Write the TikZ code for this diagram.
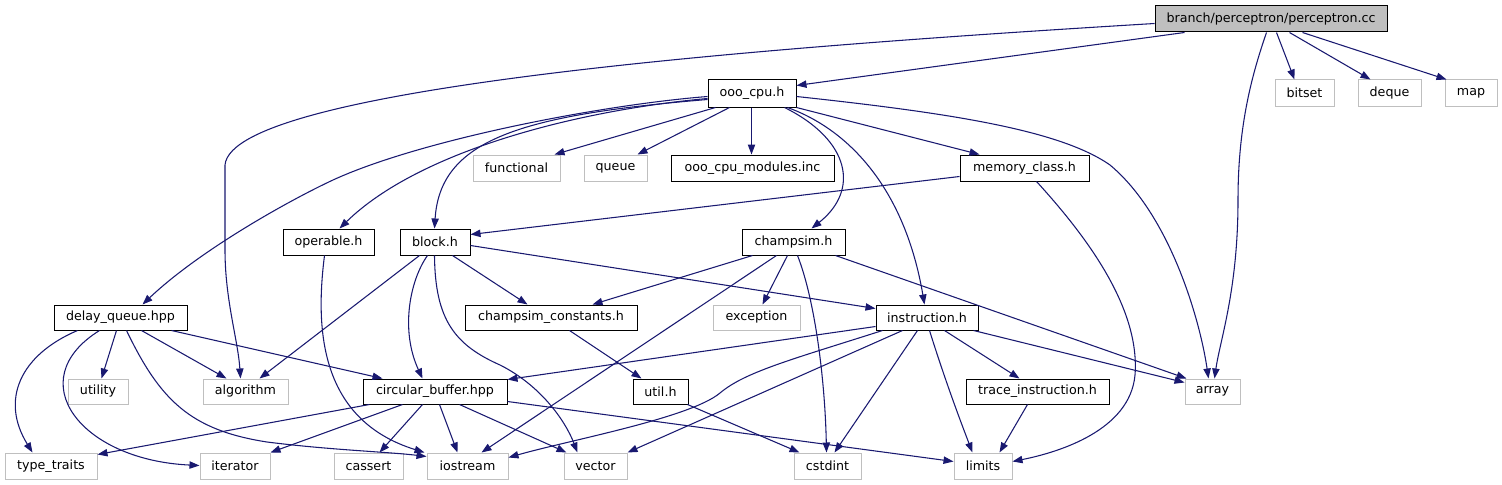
\documentclass[tikz,border=0pt]{standalone}
\usepackage{fontspec}
\setmainfont{DejaVu Sans}
\usetikzlibrary{arrows.meta,calc}
\definecolor{edgeblue}{HTML}{191970}
\definecolor{extgray}{HTML}{BFBFBF}
\newcommand\mkbox[7]{\node[#1, minimum width={(#5-#3)*0.75pt}, minimum height={(#6-#4)*0.75pt}] (#2) at ({(#3+#5)/2},{(#4+#6)/2}) {#7};}
\tikzset{
  basebox/.style={rectangle, inner sep=0pt, line width=0.75pt, font=\fontsize{9.5pt}{11pt}\selectfont, text=black},
  docbox/.style={basebox, draw=black},
  rootbox/.style={basebox, draw=black, fill=extgray},
  extbox/.style={basebox, draw=extgray},
  dep/.style={draw=edgeblue, line width=0.8pt, -{Triangle[length=7.5pt,width=5.5pt]}}
}
\begin{document}
\begin{tikzpicture}[x=0.75pt,y=-0.75pt]
\useasboundingbox (0,0) rectangle (1502,485);
% row 1
\mkbox{rootbox}{perc}{1155}{6}{1387}{32}{branch/perceptron/perceptron.cc}
% row 2
\mkbox{docbox}{ooo}{708}{80}{796}{107}{ooo\_cpu.h}
\mkbox{extbox}{bitset}{1275}{80}{1334}{106}{bitset}
\mkbox{extbox}{deque}{1358}{80}{1421}{106}{deque}
\mkbox{extbox}{map}{1445}{80}{1497}{106}{map}
% row 3
\mkbox{extbox}{functional}{473}{155}{560}{181}{functional}
\mkbox{extbox}{queue}{584}{155}{647}{181}{queue}
\mkbox{docbox}{modules}{671}{155}{834}{181}{ooo\_cpu\_modules.inc}
\mkbox{docbox}{memory}{960}{155}{1089}{181}{memory\_class.h}
% row 4
\mkbox{docbox}{operable}{283}{229}{374}{255}{operable.h}
\mkbox{docbox}{block}{400}{229}{470}{255}{block.h}
\mkbox{docbox}{champsim}{742}{229}{845}{255}{champsim.h}
% row 5
\mkbox{docbox}{delayq}{54}{305}{187}{330}{delay\_queue.hpp}
\mkbox{docbox}{constants}{465}{305}{637}{330}{champsim\_constants.h}
\mkbox{extbox}{exception}{713}{305}{800}{330}{exception}
\mkbox{docbox}{instruction}{876}{305}{978}{330}{instruction.h}
% row 6
\mkbox{extbox}{utility}{68}{379}{128}{404}{utility}
\mkbox{extbox}{algorithm}{203}{379}{288}{404}{algorithm}
\mkbox{docbox}{circular}{363}{379}{507}{404}{circular\_buffer.hpp}
\mkbox{docbox}{util}{633}{379}{688}{404}{util.h}
\mkbox{docbox}{trace}{966}{379}{1109}{404}{trace\_instruction.h}
\mkbox{extbox}{array}{1185}{379}{1240}{404}{array}
% row 7
\mkbox{extbox}{typetraits}{5}{453}{97}{479}{type\_traits}
\mkbox{extbox}{iterator}{200}{453}{270}{479}{iterator}
\mkbox{extbox}{cassert}{334}{453}{403}{479}{cassert}
\mkbox{extbox}{iostream}{427}{453}{508}{479}{iostream}
\mkbox{extbox}{vector}{564}{453}{627}{479}{vector}
\mkbox{extbox}{cstdint}{794}{453}{861}{479}{cstdint}
\mkbox{extbox}{limits}{954}{453}{1012}{479}{limits}

% perceptron.cc edges
\draw[dep] ($(perc.north west)+(0,18)$) .. controls (800,45) and (232,85) .. (225,165) -- (225,250) .. controls (225,300) and (238,340) .. ($(algorithm.north west)+(38,0)$);
\draw[dep] ($(perc.south west)+(30,0)$) -- ($(ooo.north east)+(0,6)$);
\draw[dep] ($(perc.south west)+(112,0)$) .. controls (1250,80) and (1238,130) .. (1238,200) .. controls (1238,290) and (1220,340) .. ($(array.north west)+(30,0)$);
\draw[dep] ($(perc.south west)+(122,0)$) -- ($(bitset.north west)+(20,0)$);
\draw[dep] ($(perc.south west)+(135,0)$) -- ($(deque.north west)+(13,0)$);
\draw[dep] ($(perc.south west)+(148,0)$) -- ($(map.north west)+(2,0)$);

% ooo_cpu.h edges
\draw[dep] ($(ooo.north west)+(0,17)$) .. controls (600,105) and (420,140) .. (333,180) .. controls (290,200) and (200,250) .. ($(delayq.north west)+(89,0)$);
\draw[dep] ($(ooo.north west)+(0,19)$) .. controls (580,110) and (420,150) .. ($(operable.north west)+(57,0)$);
\draw[dep] ($(ooo.north west)+(0,20)$) .. controls (520,115) and (440,140) .. ($(block.north west)+(35,0)$);
\draw[dep] ($(ooo.south west)+(8,0)$) -- ($(functional.north west)+(82,0)$);
\draw[dep] ($(ooo.south west)+(22,0)$) -- ($(queue.north west)+(54,0)$);
\draw[dep] ($(ooo.south west)+(44,0)$) -- ($(modules.north west)+(81,0)$);
\draw[dep] ($(ooo.south west)+(77,0)$) .. controls (850,140) and (860,190) .. ($(champsim.north west)+(70,0)$);
\draw[dep] ($(ooo.south west)+(80,0)$) .. controls (850,130) and (905,190) .. ($(instruction.north west)+(49,0)$);
\draw[dep] ($(ooo.south east)+(0,0)$) -- ($(memory.north west)+(20,0)$);
\draw[dep] ($(ooo.north east)+(0,17)$) .. controls (950,113) and (1060,130) .. (1110,165) .. controls (1170,215) and (1200,320) .. ($(array.north west)+(24,0)$);

% memory_class.h edges
\draw[dep] ($(memory.north west)+(0,22)$) -- ($(block.north east)+(0,6)$);
\draw[dep] ($(memory.south west)+(77,0)$) .. controls (1090,240) and (1140,310) .. (1135,375) .. controls (1130,430) and (1060,452) .. ($(limits.north east)+(0,9)$);

% operable.h
\draw[dep] ($(operable.south west)+(42,0)$) .. controls (315,330) and (320,420) .. ($(iostream.north west)+(-2,0)$);

% block.h edges
\draw[dep] ($(block.south west)+(20,0)$) -- ($(algorithm.north west)+(57,0)$);
\draw[dep] ($(block.south west)+(28,0)$) .. controls (410,280) and (400,330) .. ($(circular.north west)+(60,0)$);
\draw[dep] ($(block.south west)+(35,0)$) .. controls (435,320) and (455,345) .. (500,365) .. controls (540,385) and (565,420) .. ($(vector.north west)+(14,0)$);
\draw[dep] ($(block.south west)+(53,0)$) -- ($(constants.north west)+(63,0)$);
\draw[dep] ($(block.north east)+(0,17)$) -- ($(instruction.north west)+(0,4)$);

% champsim.h edges
\draw[dep] ($(champsim.south west)+(11,0)$) -- ($(constants.north west)+(128,0)$);
\draw[dep] ($(champsim.south west)+(35,0)$) -- ($(iostream.north west)+(55,0)$);
\draw[dep] ($(champsim.south west)+(46,0)$) -- ($(exception.north west)+(50,0)$);
\draw[dep] ($(champsim.south west)+(56,0)$) .. controls (815,300) and (825,380) .. ($(cstdint.north west)+(33,0)$);
\draw[dep] ($(champsim.south east)+(-10,0)$) -- ($(array.north west)+(2,0)$);

% delay_queue.hpp edges
\draw[dep] ($(delayq.south west)+(24,0)$) .. controls (20,355) and (0,400) .. ($(typetraits.north west)+(28,0)$);
\draw[dep] ($(delayq.south west)+(46,0)$) .. controls (20,380) and (80,460) .. ($(iterator.north west)+(0,13)$);
\draw[dep] ($(delayq.south west)+(63,0)$) -- ($(utility.north west)+(34,0)$);
\draw[dep] ($(delayq.south west)+(73,0)$) .. controls (160,400) and (190,430) .. (267,442) .. controls (330,450) and (390,452) .. ($(iostream.north west)+(0,4)$);
\draw[dep] ($(delayq.south west)+(88,0)$) -- ($(algorithm.north west)+(24,0)$);
\draw[dep] ($(delayq.south west)+(118,0)$) -- ($(circular.north west)+(20,0)$);

% champsim_constants.h
\draw[dep] ($(constants.south west)+(105,0)$) -- ($(util.north west)+(9,0)$);

% instruction.h edges
\draw[dep] ($(instruction.north west)+(0,22)$) -- ($(circular.north east)+(0,1)$);
\draw[dep] ($(instruction.south west)+(7,0)$) .. controls (790,360) and (745,372) .. (720,393) .. controls (690,418) and (570,440) .. ($(iostream.north east)+(0,5)$);
\draw[dep] ($(instruction.south west)+(27,0)$) -- ($(vector.north east)+(0,0)$);
\draw[dep] ($(instruction.south west)+(42,0)$) -- ($(cstdint.north west)+(41,0)$);
\draw[dep] ($(instruction.south west)+(54,0)$) .. controls (945,380) and (960,420) .. ($(limits.north west)+(19,0)$);
\draw[dep] ($(instruction.south west)+(69,0)$) -- ($(trace.north west)+(54,0)$);
\draw[dep] ($(instruction.south east)+(-5,0)$) -- ($(array.north west)+(0,4)$);

% circular_buffer.hpp edges
\draw[dep] ($(circular.south west)+(7,0)$) -- ($(typetraits.north east)+(0,2)$);
\draw[dep] ($(circular.south west)+(40,0)$) -- ($(iterator.north east)+(0,0)$);
\draw[dep] ($(circular.south west)+(60,0)$) -- ($(cassert.north west)+(46,0)$);
\draw[dep] ($(circular.south west)+(77,0)$) -- ($(iostream.north west)+(31,0)$);
\draw[dep] ($(circular.south west)+(97,0)$) -- ($(vector.north west)+(3,0)$);
\draw[dep] ($(circular.north east)+(0,23)$) -- ($(limits.north west)+(0,9)$);

% util.h
\draw[dep] ($(util.south east)+(-1,0)$) -- ($(cstdint.north west)+(6,0)$);

% trace_instruction.h
\draw[dep] ($(trace.south west)+(62,0)$) -- ($(limits.north west)+(46,0)$);
\end{tikzpicture}
\end{document}
